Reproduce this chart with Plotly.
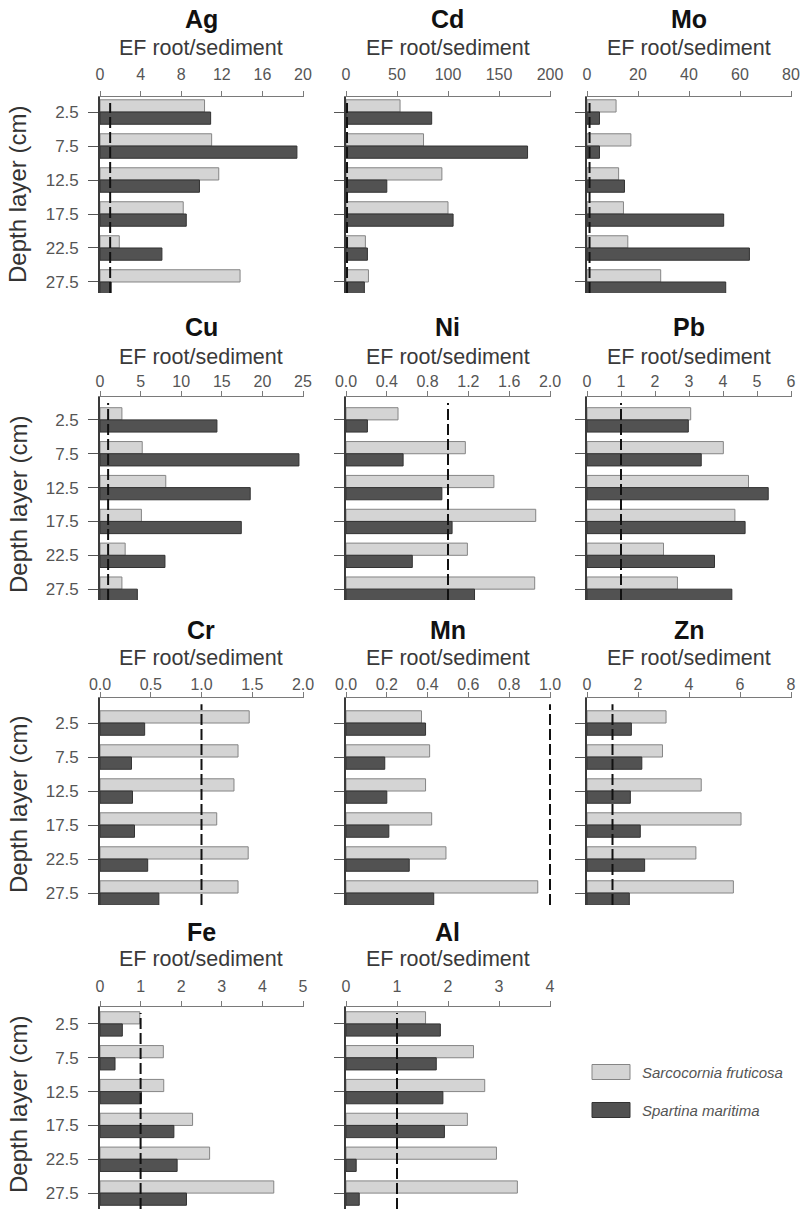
import plotly.graph_objects as go

W, H = 802, 1209

# ---------------- data ----------------
depths = [2.5, 7.5, 12.5, 17.5, 22.5, 27.5]
depth_labels = ["2.5", "7.5", "12.5", "17.5", "22.5", "27.5"]

elements = ["Ag", "Cd", "Mo", "Cu", "Ni", "Pb", "Cr", "Mn", "Zn", "Fe", "Al"]
series_names = ["Sarcocornia fruticosa", "Spartina maritima"]

ag_sarcocornia = [10.3, 11.0, 11.7, 8.2, 1.9, 13.8]
ag_spartina = [10.9, 19.4, 9.8, 8.5, 6.1, 1.1]
cd_sarcocornia = [53, 76, 94, 100, 19, 22]
cd_spartina = [84, 178, 40, 105, 21, 18]
mo_sarcocornia = [11.4, 17.2, 12.4, 14.3, 16.0, 28.9]
mo_spartina = [4.9, 4.9, 14.7, 53.6, 63.7, 54.4]
cu_sarcocornia = [2.7, 5.2, 8.1, 5.1, 3.1, 2.7]
cu_spartina = [14.4, 24.5, 18.5, 17.4, 8.0, 4.6]
ni_sarcocornia = [0.51, 1.17, 1.45, 1.86, 1.19, 1.85]
ni_spartina = [0.21, 0.56, 0.94, 1.04, 0.65, 1.26]
pb_sarcocornia = [3.05, 4.01, 4.75, 4.35, 2.25, 2.66]
pb_spartina = [2.98, 3.36, 5.33, 4.65, 3.75, 4.26]
cr_sarcocornia = [1.47, 1.36, 1.32, 1.15, 1.46, 1.36]
cr_spartina = [0.44, 0.31, 0.32, 0.34, 0.47, 0.58]
mn_sarcocornia = [0.37, 0.41, 0.39, 0.42, 0.49, 0.94]
mn_spartina = [0.39, 0.19, 0.20, 0.21, 0.31, 0.43]
zn_sarcocornia = [3.10, 2.96, 4.48, 6.04, 4.27, 5.74]
zn_spartina = [1.74, 2.15, 1.70, 2.09, 2.26, 1.66]
fe_sarcocornia = [0.98, 1.56, 1.57, 2.28, 2.70, 4.28]
fe_spartina = [0.55, 0.37, 1.02, 1.82, 1.90, 2.13]
al_sarcocornia = [1.56, 2.50, 2.72, 2.38, 2.95, 3.36]
al_spartina = [1.85, 1.77, 1.90, 1.93, 0.20, 0.26]

sarcocornia_values = [ag_sarcocornia, cd_sarcocornia, mo_sarcocornia, cu_sarcocornia,
                      ni_sarcocornia, pb_sarcocornia, cr_sarcocornia, mn_sarcocornia,
                      zn_sarcocornia, fe_sarcocornia, al_sarcocornia]
spartina_values = [ag_spartina, cd_spartina, mo_spartina, cu_spartina,
                   ni_spartina, pb_spartina, cr_spartina, mn_spartina,
                   zn_spartina, fe_spartina, al_spartina]

x_max = [20, 200, 80, 25, 2.0, 6, 2.0, 1.0, 8, 5, 4]
x_dtick = [4, 50, 20, 5, 0.4, 1, 0.5, 0.2, 2, 1, 1]
x_tickformat = ["d", "d", "d", "d", ".1f", "d", ".1f", ".1f", "d", "d", "d"]
reference_ef = 1.0
axis_title = "EF root/sediment"
y_title = "Depth layer (cm)"

# ---------------- layout (page pixels) ----------------
col_px = [(100, 303), (346, 550), (587, 791)]
row_px = [(97, 293), (397, 600), (698, 905), (1007, 1209)]
row_yrange = [(29.12, 0.29), (29.1, -0.88), (29.26, -1.18), (29.85, 0.0)]
row_title_y = [19, 327, 630, 932]
row_ef_y = [48, 357, 658, 959]
row_standoff = [5, -2, -4, 3]
row_ytitle_y = [195, 505, 805, 1105]

LIGHT = "#d4d4d4"
LIGHT_EDGE = "#858585"
DARK = "#525252"
DARK_EDGE = "#333333"
FONT = "Liberation Sans, Arial, Helvetica, sans-serif"
BAR_W = 1.8
RANGE_PAD = 1.006


def px_x(p):
    return p / W


def px_y(p):
    return 1 - p / H


fig = go.Figure()
annotations = []
shapes = []
layout_axes = {}

for i, el in enumerate(elements):
    k = i + 1
    r, c = divmod(i, 3)
    x0p, x1p = col_px[c]
    y0p, y1p = row_px[r]
    xa = "x" if k == 1 else f"x{k}"
    ya = "y" if k == 1 else f"y{k}"

    fig.add_trace(go.Bar(
        y=depths, x=sarcocornia_values[i], orientation="h",
        width=BAR_W, offset=-BAR_W, name=series_names[0],
        marker=dict(color=LIGHT, line=dict(color=LIGHT_EDGE, width=1)),
        xaxis=xa, yaxis=ya, showlegend=False, hoverinfo="x+y"))
    fig.add_trace(go.Bar(
        y=depths, x=spartina_values[i], orientation="h",
        width=BAR_W, offset=0, name=series_names[1],
        marker=dict(color=DARK, line=dict(color=DARK_EDGE, width=1)),
        xaxis=xa, yaxis=ya, showlegend=False, hoverinfo="x+y"))

    x1_pad = x0p + (x1p - x0p) * RANGE_PAD
    layout_axes["xaxis" if k == 1 else f"xaxis{k}"] = dict(
        domain=[px_x(x0p), min(1.0, px_x(x1_pad))],
        anchor=ya, side="top", automargin=False,
        range=[0, x_max[i] * RANGE_PAD], tick0=0, dtick=x_dtick[i],
        tickformat=x_tickformat[i],
        ticks="outside", ticklen=5, tickcolor="#7a7a7a", tickwidth=1,
        showline=True, linecolor="#7a7a7a", linewidth=1,
        showgrid=False, zeroline=False,
        ticklabelstandoff=row_standoff[r],
        tickfont=dict(family=FONT, size=16, color="#555555"))
    layout_axes["yaxis" if k == 1 else f"yaxis{k}"] = dict(
        domain=[max(0.0, px_y(y1p)), px_y(y0p)], anchor=xa, automargin=False,
        range=list(row_yrange[r]),
        tickvals=depths, ticktext=depth_labels, showticklabels=(c == 0),
        ticks="outside", ticklen=10, tickcolor="#555555", tickwidth=1,
        ticklabelstandoff=6,
        showline=True, linecolor="#3a3a3a", linewidth=1.6,
        showgrid=False, zeroline=False,
        tickfont=dict(family=FONT, size=17, color="#555555"))

    # reference line EF = 1
    shapes.append(dict(type="line", xref=xa, yref=f"{ya} domain",
                       x0=reference_ef, x1=reference_ef, y0=0, y1=0.97,
                       line=dict(color="#111111", width=2, dash="11px,4px"),
                       layer="above"))

    xc = px_x((x0p + x1p) / 2)
    annotations.append(dict(text=f"<b>{el}</b>", x=xc, y=px_y(row_title_y[r]),
                            xref="paper", yref="paper", showarrow=False,
                            xanchor="center", yanchor="middle",
                            font=dict(family=FONT, size=25, color="#111111")))
    annotations.append(dict(text=axis_title, x=xc, y=px_y(row_ef_y[r]),
                            xref="paper", yref="paper", showarrow=False,
                            xanchor="center", yanchor="middle",
                            font=dict(family=FONT, size=21.5, color="#3a3a3a")))

for r in range(4):
    annotations.append(dict(text=y_title, x=px_x(18), y=px_y(row_ytitle_y[r]),
                            xref="paper", yref="paper", showarrow=False,
                            textangle=-90, xanchor="center", yanchor="middle",
                            font=dict(family=FONT, size=24, color="#333333")))

# legend
legend_items = [(series_names[0], LIGHT, LIGHT_EDGE, 1072),
                (series_names[1], DARK, DARK_EDGE, 1110)]
for name, fill, edge, yc in legend_items:
    shapes.append(dict(type="rect", xref="paper", yref="paper",
                       x0=px_x(592), x1=px_x(630), y0=px_y(yc + 7.5), y1=px_y(yc - 7.5),
                       fillcolor=fill, line=dict(color=edge, width=1)))
    annotations.append(dict(text=f"<i>{name}</i>", x=px_x(640), y=px_y(yc),
                            xref="paper", yref="paper", showarrow=False,
                            xanchor="left", yanchor="middle",
                            font=dict(family=FONT, size=15, color="#555555")))

fig.update_layout(
    width=W, height=H, margin=dict(l=0, r=0, t=0, b=0, autoexpand=False),
    paper_bgcolor="white", plot_bgcolor="white",
    barmode="overlay", showlegend=False,
    annotations=annotations, shapes=shapes,
    font=dict(family=FONT),
    **layout_axes)

# the page body gets no margin so the figure fills the 802x1209 window exactly
fig.write_html("out.html",
               config={"displayModeBar": False},
               post_script="document.body.style.margin='0';"
                           "document.body.style.overflow='hidden';")
